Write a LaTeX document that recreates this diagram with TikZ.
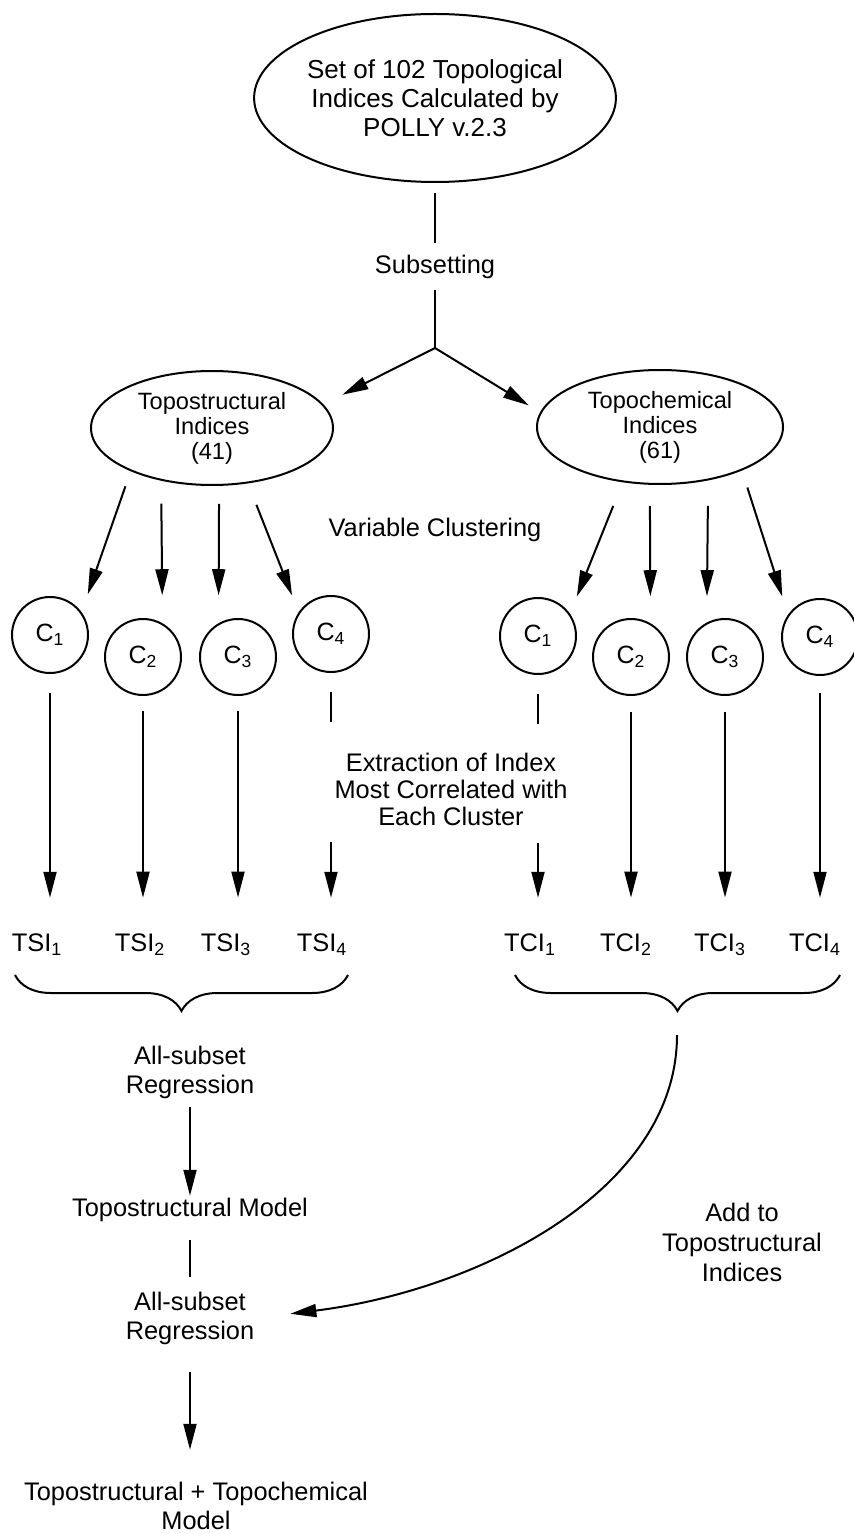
\documentclass[tikz,border=0pt]{standalone}
\usepackage{fontspec}
\setmainfont{Liberation Sans}
\usepackage{tikz}
\usetikzlibrary{
  shapes.geometric,
  arrows.meta,
  positioning,
  decorations.pathreplacing
}

\begin{document}
\begin{tikzpicture}[
  x=0.5pt, y=-0.5pt,
  setoval/.style={ellipse, draw, line width=1pt, inner sep=0pt, minimum width=150pt, minimum height=84pt, align=center, font=\fontsize{13}{14.5}\selectfont},
  suboval/.style={ellipse, draw, line width=1pt, inner sep=0pt, minimum width=121pt, minimum height=57pt, align=center, font=\fontsize{11.8}{12.5}\selectfont},
  cluster/.style={circle, draw, line width=1pt, inner sep=0pt, minimum size=38pt, font=\fontsize{12.5}{14}\selectfont},
  lbl/.style={align=center, inner sep=1pt, font=\fontsize{12.7}{14.5}\selectfont},
  idx/.style={inner sep=1pt, font=\fontsize{12.7}{14.5}\selectfont},
  link/.style={line width=1pt},
  flow/.style={line width=1pt, -{Triangle[length=13pt, width=6.5pt]}},
  grp/.style={line width=1pt, decorate, decoration={brace, mirror, amplitude=18pt}}
]
  \useasboundingbox (0,0) rectangle (853,1534);

  % top of the scheme
  \node[setoval] (polly) at (435,98) {Set of 102 Topological\\Indices Calculated by\\POLLY v.2.3};
  \node[lbl] (subset) at (435,267) {Subsetting};
  \coordinate (split) at (435,348);
  \node[suboval] (tsoval) at (212,428) {Topostructural\\Indices\\(41)};
  \node[suboval, minimum width=123pt] (tcoval) at (660,427) {Topochemical\\Indices\\(61)};
  \node[lbl] (varclust) at (435,530) {Variable Clustering};

  \draw[link, shorten <=5pt, shorten >=5pt] (polly) -- (subset);
  \draw[link, shorten <=4.5pt] (subset) -- (split);
  \draw[flow, shorten >=10.6pt] (split) -- (tsoval.12);
  \draw[flow, shorten >=6.6pt] (split) -- (tcoval.173);

  % clusters
  \node[cluster] (ts1) at (50,635) {C\textsubscript{1}};
  \node[cluster] (ts2) at (143,657) {C\textsubscript{2}};
  \node[cluster] (ts3) at (238,657) {C\textsubscript{3}};
  \node[cluster] (ts4) at (331,634) {C\textsubscript{4}};
  \node[cluster] (tc1) at (538,636) {C\textsubscript{1}};
  \node[cluster] (tc2) at (631,657) {C\textsubscript{2}};
  \node[cluster] (tc3) at (725,657) {C\textsubscript{3}};
  \node[cluster] (tc4) at (820,637) {C\textsubscript{4}};

  \draw[flow, shorten <=8pt, shorten >=9.4pt] (tsoval.208) -- (ts1.36);
  \draw[flow, shorten <=11.5pt, shorten >=14pt] (tsoval.226) -- (ts2.60);
  \draw[flow, shorten <=9pt, shorten >=14pt] (tsoval.277) -- (ts3.120);
  \draw[flow, shorten <=11.5pt, shorten >=9pt] (tsoval.303) -- (ts4.146);
  \draw[flow, shorten <=12.7pt, shorten >=9.2pt] (tcoval.236) -- (tc1.35);
  \draw[flow, shorten <=10.5pt, shorten >=13.5pt] (tcoval.260) -- (tc2.60);
  \draw[flow, shorten <=12.7pt, shorten >=13.2pt] (tcoval.312) -- (tc3.118);
  \draw[flow, shorten <=8.9pt, shorten >=9.5pt] (tcoval.332) -- (tc4.145);

  % extracted indices
  \node[lbl, font=\fontsize{12.7}{13.5}\selectfont] (extract) at (451,789) {Extraction of Index\\Most Correlated with\\Each Cluster};
  \node[idx] (tsi1) at (37,945) {TSI\textsubscript{1}};
  \node[idx] (tsi2) at (140,945) {TSI\textsubscript{2}};
  \node[idx] (tsi3) at (226,945) {TSI\textsubscript{3}};
  \node[idx] (tsi4) at (322,945) {TSI\textsubscript{4}};
  \node[idx] (tci1) at (530,945) {TCI\textsubscript{1}};
  \node[idx] (tci2) at (626,945) {TCI\textsubscript{2}};
  \node[idx] (tci3) at (720,945) {TCI\textsubscript{3}};
  \node[idx] (tci4) at (815,945) {TCI\textsubscript{4}};

  \draw[flow, shorten <=9.5pt, shorten >=17pt] (ts1.south) -- (ts1.south |- tsi1.north);
  \draw[flow, shorten <=7.5pt, shorten >=17pt] (ts2.south) -- (ts2.south |- tsi2.north);
  \draw[flow, shorten <=7.5pt, shorten >=17pt] (ts3.south) -- (ts3.south |- tsi3.north);
  \draw[link] ([yshift=-9.5pt]ts4.south) -- ([yshift=-24.5pt]ts4.south);
  \draw[flow, shorten >=17pt] ([yshift=-84.5pt]ts4.south) -- (ts4.south |- tsi4.north);
  \draw[link] ([yshift=-9.5pt]tc1.south) -- ([yshift=-24.5pt]tc1.south);
  \draw[flow, shorten >=17pt] ([yshift=-84pt]tc1.south) -- (tc1.south |- tci1.north);
  \draw[flow, shorten <=8pt, shorten >=17pt] (tc2.south) -- (tc2.south |- tci2.north);
  \draw[flow, shorten <=8pt, shorten >=17pt] (tc3.south) -- (tc3.south |- tci3.north);
  \draw[flow, shorten <=8.5pt, shorten >=17pt] (tc4.south) -- (tc4.south |- tci4.north);

  % braces
  \coordinate (tsl) at (15,975);
  \coordinate (tsr) at (348,975);
  \coordinate (tcl) at (515,975);
  \coordinate (tcr) at (840,975);
  \draw[grp] (tsl) -- (tsr);
  \draw[grp] (tcl) -- (tcr);

  % regression chain
  \node[lbl] (reg1) at (190,1072) {All-subset\\Regression};
  \node[lbl] (tsmodel) at (190,1210) {Topostructural Model};
  \node[lbl] (reg2) at (190,1318) {All-subset\\Regression};
  \node[lbl] (final) at (196,1506) {Topostructural + Topochemical\\Model};
  \node[lbl, font=\fontsize{12.7}{15}\selectfont] (addto) at (742,1242) {Add to\\Topostructural\\Indices};
  \coordinate (tcgrp) at (677,1035);

  \draw[flow, shorten <=3pt] (reg1) -- (tsmodel);
  \draw[link, shorten <=8pt, shorten >=6pt] (tsmodel) -- (reg2);
  \draw[flow, shorten <=12.5pt, shorten >=15pt] (reg2) -- (reg2 |- final.north);
  \draw[flow, shorten >=17pt] (tcgrp) .. controls (677,1190) and (480,1290) .. (reg2.east);
\end{tikzpicture}
\end{document}
